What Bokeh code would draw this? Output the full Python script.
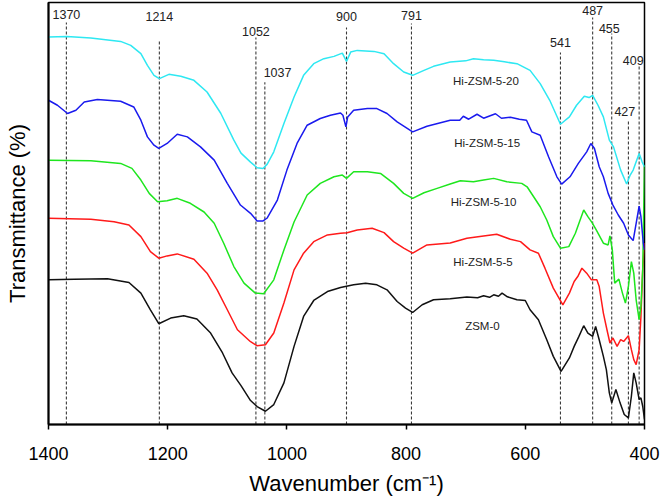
from bokeh.plotting import figure
from bokeh.models import ColumnDataSource, Range1d, FixedTicker
from bokeh.core.properties import value
from bokeh.embed import file_html
from bokeh.resources import INLINE

# FTIR spectra (wavenumber in cm-1, transmittance in arbitrary offset units)
wn_zsm0 = [1400, 1357, 1301, 1265, 1245, 1229, 1215, 1195, 1173, 1151, 1128, 1108, 1092,
           1077, 1061, 1050, 1036, 1022, 1005, 988, 972, 955, 932, 910, 888, 868, 849,
           832, 815, 801, 789, 773, 754, 726, 698, 680, 670, 660, 653, 645, 639, 630,
           614, 600, 592, 578, 564, 553, 540, 526, 518, 510, 502, 495, 487, 482, 476,
           469, 464, 459, 455, 448, 441, 434, 427, 422, 418, 414, 409, 406, 403, 400]
t_zsm0 = [145, 145.7, 146, 142.3, 131.7, 115, 101, 106.7, 109, 105.7, 91.7, 71.7, 51.7,
          39, 24, 18, 13.3, 20, 41.7, 78.3, 108.3, 124.3, 133.3, 137.3, 140, 141.7, 140,
          135, 123.3, 116.7, 112.3, 120, 125, 126, 127.7, 127, 129, 127.5, 130, 128.5, 131.7, 128,
          125, 124.3, 115, 105, 85, 68.3, 53.3, 66.7, 78.3, 88.3, 99, 91.7, 88.3, 98.3, 85,
          68.3, 55, 31.7, 21.7, 35, 21.7, 10, 6.7, 28.3, 51.7, 41.7, 25, 26.7, 18.3, 5]

wn_h5 = [1400, 1329, 1290, 1265, 1245, 1229, 1215, 1201, 1184, 1156, 1134, 1117, 1100,
         1083, 1061, 1050, 1036, 1022, 1005, 988, 972, 955, 932, 910, 899, 882, 857,
         837, 821, 804, 789, 765, 726, 698, 670, 648, 625, 608, 592, 578, 567, 553,
         537, 526, 518, 512, 505, 497, 489, 480, 476, 469, 463, 458, 453, 446, 440,
         435, 427, 422, 418, 414, 409, 406, 403, 400]
t_h5 = [206.7, 205.7, 203.3, 200, 188.3, 173.3, 166.7, 169, 171, 165.7, 151.7, 135, 115,
        95, 83, 79, 80, 91.7, 121.7, 155, 171.7, 183.3, 190, 191.7, 192.3, 195, 196.7,
        192.3, 183.3, 176.7, 171.7, 180, 182, 186.7, 189, 190.7, 185.7, 183.3, 175, 171.7, 156.7, 136.7,
        120, 131.7, 143.3, 148.3, 156.7, 151.7, 145, 145, 138.3, 111.7, 95, 81.7, 86.7, 78.3, 85,
        83.3, 89, 75, 65, 60, 75, 108.3, 155, 182]

wn_h10 = [1400, 1329, 1279, 1260, 1245, 1231, 1217, 1201, 1184, 1162, 1139, 1122, 1106,
          1089, 1072, 1053, 1039, 1022, 1005, 988, 966, 944, 921, 907, 900, 888, 865,
          843, 821, 804, 789, 770, 748, 726, 709, 687, 670, 653, 631, 606, 597, 586,
          575, 564, 553, 541, 527, 516, 502, 495, 488, 481, 469, 461, 458, 454, 450,
          443, 437, 432, 427, 422, 418, 414, 409, 406, 403, 400]
t_h10 = [265, 264.3, 261.7, 256.7, 245, 231.7, 223.3, 224.3, 226.7, 221.7, 213, 201.7, 181.7,
         158.3, 141.7, 131.7, 131, 145, 175, 203, 230, 241.7, 248.3, 250, 246.7, 253.3, 253.3,
         251.7, 241.7, 231.7, 226.7, 232.3, 236.7, 241, 244.3, 243.3, 245, 246.7, 243.3, 241.7, 238.3, 228.3,
         218.3, 205, 188.3, 176.7, 178.3, 191.7, 215, 208.3, 202.3, 195, 181.7, 180, 189, 175, 141.7,
         145.7, 131.7, 121.7, 138.3, 163.3, 151.7, 125, 105, 118.3, 155, 260]

wn_h15 = [1400, 1385, 1368, 1354, 1340, 1318, 1279, 1257, 1245, 1234, 1223, 1215, 1201,
          1184, 1167, 1145, 1122, 1100, 1078, 1061, 1050, 1040, 1033, 1016, 1000, 983,
          966, 944, 927, 910, 906, 901, 898, 888, 865, 849, 832, 815, 789, 765, 726,
          710, 704, 695, 681, 670, 650, 640, 625, 610, 598, 589, 575, 561, 547, 539,
          525, 511, 497, 490, 484, 476, 469, 461, 453, 444, 435, 427, 419, 413, 409,
          406, 402, 400]
t_h15 = [325, 320, 311.7, 315, 323.3, 325.7, 324, 318.3, 305, 288.3, 280, 276.7, 281.7,
         291, 288.3, 278.3, 265, 241.7, 220, 211.7, 204, 204, 207, 225, 255, 281.7,
         300, 306.7, 310, 312.3, 310, 298.3, 308.3, 315, 316.7, 316.7, 311.7, 303.3, 293.3, 299, 305,
         305, 309, 306, 311, 307, 311.5, 307, 308, 306, 305, 293.3, 290, 268.3, 248.3, 241,
         248.3, 261.7, 273.3, 281.7, 276.7, 258.3, 248.3, 231.7, 220, 210, 201.7, 190, 184.3, 205, 219,
         208.3, 181.7, 175]

wn_h20 = [1400, 1369, 1329, 1279, 1262, 1245, 1234, 1223, 1214, 1198, 1178, 1156, 1134,
          1111, 1089, 1077, 1061, 1050, 1040, 1033, 1022, 1005, 988, 972, 955, 938, 921,
          907, 900, 893, 882, 854, 837, 821, 804, 789, 770, 754, 726, 700, 687, 670,
          653, 635, 614, 592, 575, 559, 541, 526, 514, 501, 493, 487, 478, 469, 459,
          452, 440, 430, 424, 419, 409, 404, 400]
t_h20 = [388.3, 389, 387.3, 384, 380, 371.7, 360, 350, 346.7, 351, 349, 345, 333.3,
         312, 285, 272, 263, 257.3, 256.5, 261, 273.3, 301.7, 328.3, 350, 361.7, 366.7, 369,
         372.3, 364, 373.3, 375, 374, 371.7, 361.7, 353.3, 350, 355, 359, 363.3, 364.5, 366.7, 365.5,
         365, 363.5, 361.7, 355, 341.7, 325, 301, 308.3, 320, 329, 327.7, 330, 320, 308.3, 285,
         278.3, 255, 241, 250, 255, 271.7, 263.3, 258.3]

series_names = ["ZSM-0", "Hi-ZSM-5-5", "Hi-ZSM-5-10", "Hi-ZSM-5-15", "Hi-ZSM-5-20"]
series_colors = ["#111111", "#ff1a1a", "#1ee61e", "#1a1aee", "#2ee8f2"]
series_wn = [wn_zsm0, wn_h5, wn_h10, wn_h15, wn_h20]
series_t = [t_zsm0, t_h5, t_h10, t_h15, t_h20]

# where each series name is written (wavenumber, transmittance)
name_x = [672, 671, 670, 664, 666]
name_y = [99, 163, 223, 282, 344]

# marked absorption bands
peaks = [1370, 1214, 1052, 1037, 900, 791, 541, 487, 455, 427, 409]
peak_top = [403, 386, 388, 343, 398, 402, 373, 408, 392, 304, 360]
peak_label_x = [1370, 1214, 1052, 1039, 900, 791, 541, 487, 459, 433, 419]
peak_label_y = [411, 409, 394, 353, 409, 410, 383, 415, 397, 314, 365]
peak_label_align = ["center"] * 3 + ["left"] + ["center"] * 7

FONT = "Liberation Sans"

p = figure(width=661, height=498, output_backend="svg", toolbar_location=None,
           x_range=Range1d(1400, 400), y_range=Range1d(0, 423),
           min_border_left=48, min_border_right=17, min_border_top=2, min_border_bottom=73)

p.grid.visible = False
p.background_fill_color = "white"
p.border_fill_color = "white"
p.outline_line_color = "black"
p.outline_line_width = 1.5

# dashed band markers
p.segment(x0=peaks, y0=[0] * len(peaks), x1=peaks, y1=peak_top,
          line_color="#3a3a3a", line_width=1.1, line_dash="3 2")

peak_src = ColumnDataSource(dict(x=peak_label_x, y=peak_label_y,
                                 text=[str(v) for v in peaks], align=peak_label_align))
p.text(x="x", y="y", text="text", source=peak_src, text_align="align",
       text_baseline="middle", text_font=value(FONT), text_font_size=value("12.5px"),
       text_color="#222222")

for wn, t, col in zip(series_wn, series_t, series_colors):
    p.line(wn, t, line_color=col, line_width=1.5)

p.text(x=name_x, y=name_y, text=series_names, text_align="center", text_baseline="middle",
       text_font=value(FONT), text_font_size=value("11.5px"), text_color="#222222")

# axes
p.xaxis.ticker = FixedTicker(ticks=[1400, 1200, 1000, 800, 600, 400])
p.xaxis.axis_label = "Wavenumber (cm\u207b\u00b9)"
p.yaxis.axis_label = "Transmittance (%)"
p.yaxis.ticker = FixedTicker(ticks=[])
for ax in (p.xaxis, p.yaxis):
    ax.axis_line_width = 2
    ax.axis_line_color = "black"
    ax.major_tick_line_color = "black"
    ax.major_tick_line_width = 1.5
    ax.major_tick_out = 5
    ax.major_tick_in = 0
    ax.minor_tick_line_color = None
    ax.axis_label_text_font = FONT
    ax.axis_label_text_font_size = "22px"
    ax.axis_label_text_font_style = "normal"
    ax.axis_label_text_color = "black"
    ax.major_label_text_font = FONT
    ax.major_label_text_font_size = "18px"
    ax.major_label_text_color = "black"
p.yaxis.major_label_text_font_size = "0px"
p.xaxis.major_label_standoff = 17
p.xaxis.axis_label_standoff = 8
p.yaxis.axis_label_standoff = 19

open("out.html", "w").write(file_html(p, INLINE))
